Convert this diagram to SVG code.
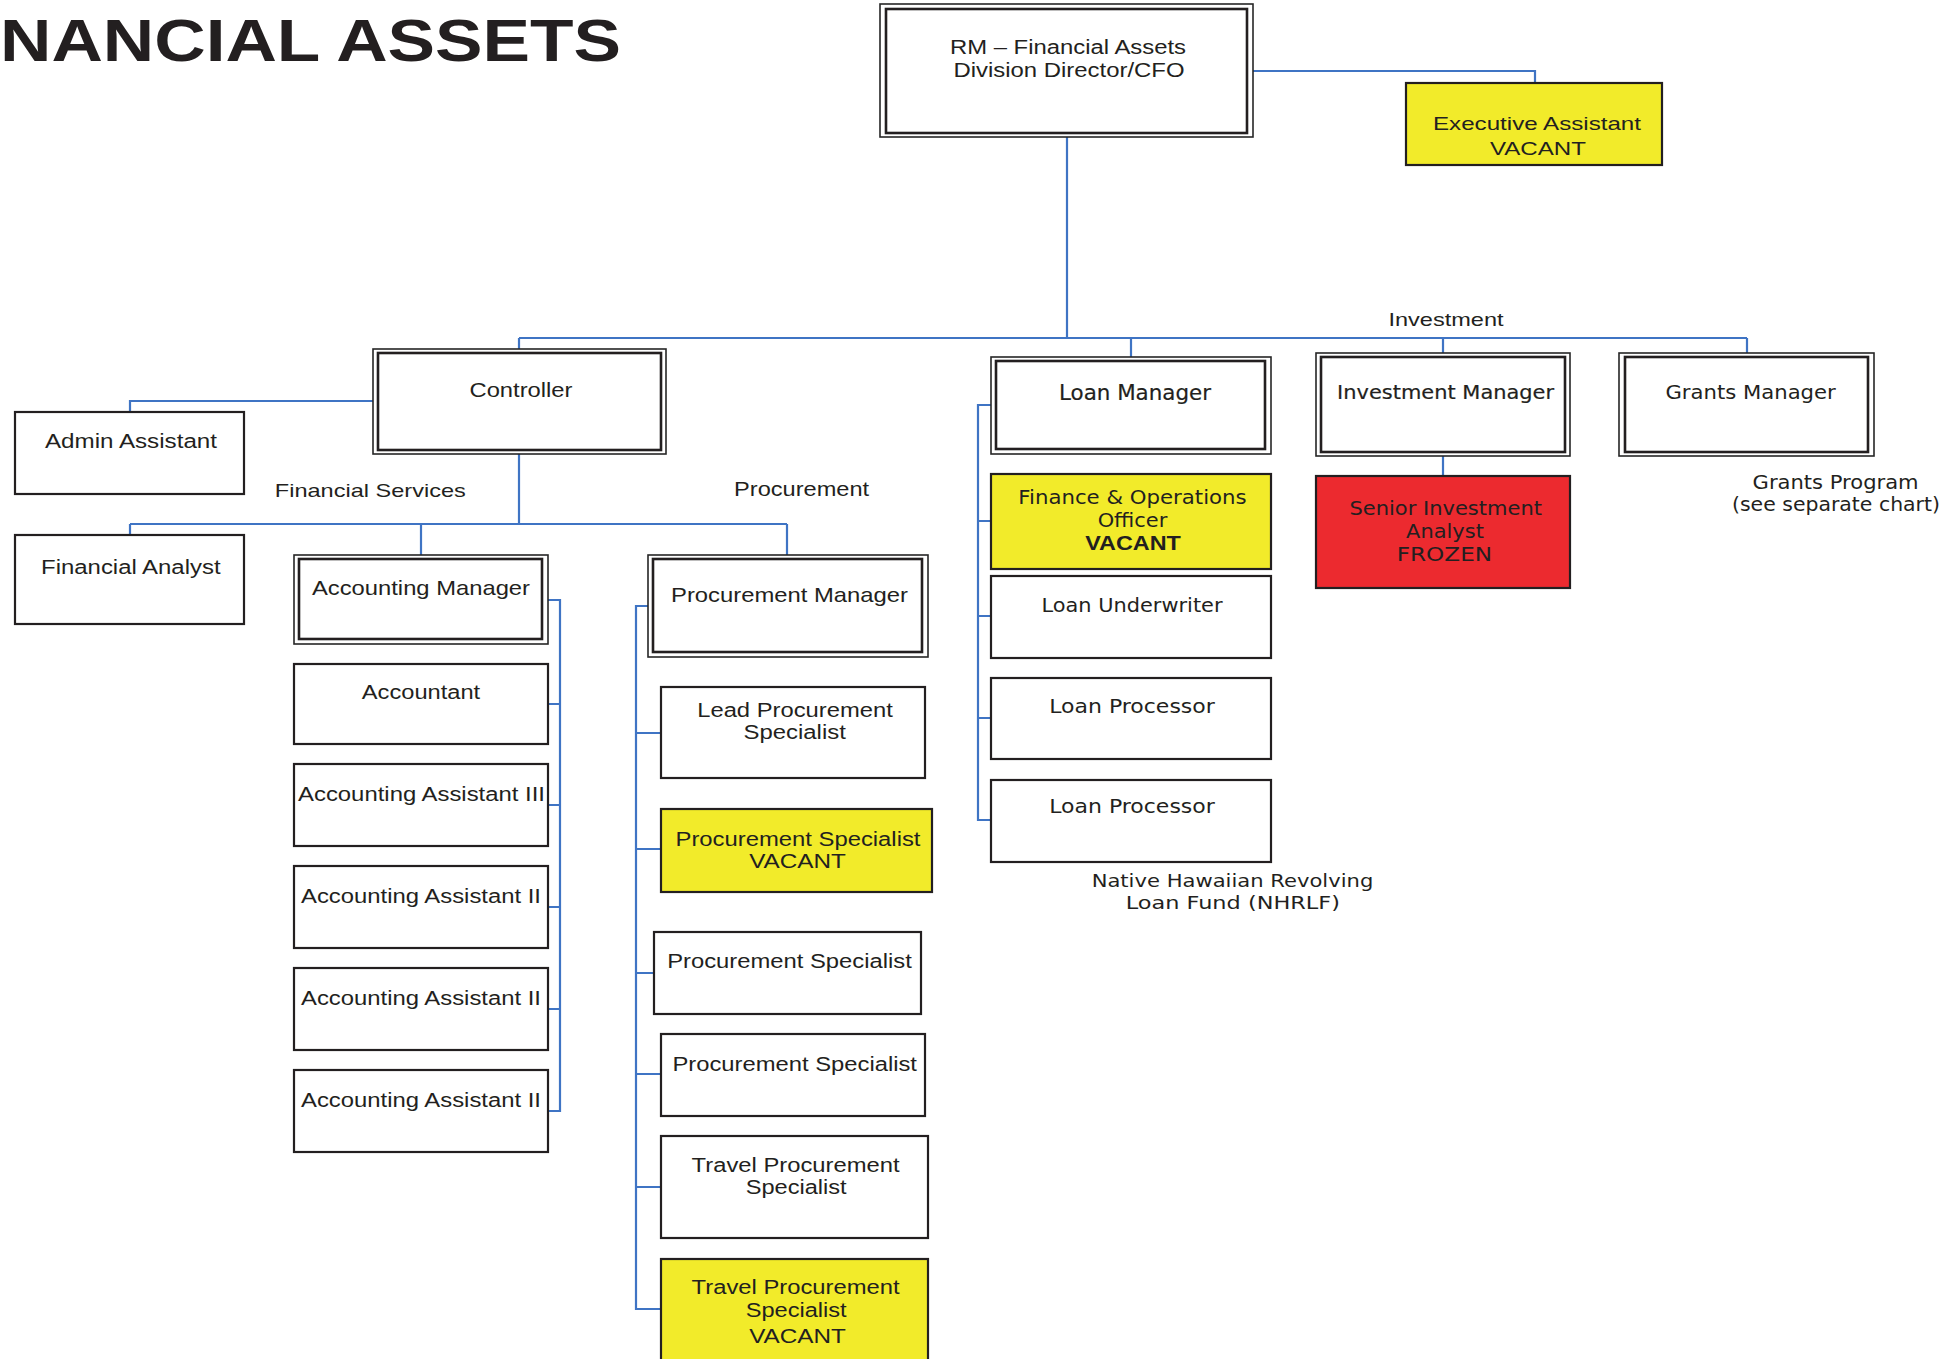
<svg xmlns="http://www.w3.org/2000/svg" width="1946" height="1359" viewBox="0 0 1946 1359">
<style>
.bg{fill:#ffffff}
.box{fill:#ffffff;stroke:#231F20;stroke-width:2.2}
.yel{fill:#F2EB2A;stroke:#231F20;stroke-width:2.2}
.red{fill:#EC2A2F;stroke:#231F20;stroke-width:2.2}
.outer{fill:#ffffff;stroke:#262626;stroke-width:1.6}
.inner{fill:#ffffff;stroke:#231F20;stroke-width:2.6}
.c{fill:none;stroke:#3F74C4;stroke-width:2.2}
.h{font-family:"Liberation Sans",Arial,sans-serif;fill:#231F20;text-anchor:middle}
.g{font-family:"DejaVu Sans","Liberation Sans",sans-serif;fill:#231F20;text-anchor:middle}
.med{stroke:#231F20;stroke-width:0.2}
.title{font-family:"Liberation Sans",Arial,sans-serif;font-weight:bold;font-size:59px;fill:#231F20}
</style>
<rect class="bg" x="0" y="0" width="1946" height="1359"/>
<text class="title" x="0" y="61" textLength="621" lengthAdjust="spacingAndGlyphs">NANCIAL ASSETS</text>

<g id="connectors">
<path class="c" d="M1253 71 H1535 V83"/>
<path class="c" d="M1067 137 V338"/>
<path class="c" d="M519 338 H1747"/>
<path class="c" d="M519 338 V349 M1131 338 V357 M1443 338 V353 M1747 338 V353"/>
<path class="c" d="M373 401 H130 V412"/>
<path class="c" d="M519 454 V524 M130 524 H787 M130 524 V535 M421 524 V555 M787 524 V555"/>
<path class="c" d="M548 600 H560 V1111 H548 M548 704 H560 M548 805 H560 M548 907 H560 M548 1009 H560"/>
<path class="c" d="M648 606 H636 V1309 H661 M636 733 H661 M636 849 H661 M636 973 H654 M636 1074 H661 M636 1187 H661"/>
<path class="c" d="M991 405 H978 V820 H991 M978 521 H991 M978 616 H991 M978 718 H991"/>
<path class="c" d="M1443 456 V476"/>
</g>

<g id="rm">
<rect class="outer" x="880" y="4" width="373" height="133"/>
<rect class="inner" x="886" y="9" width="361" height="124"/>
<text class="h" x="1068" y="54" font-size="19.5" textLength="236" lengthAdjust="spacingAndGlyphs">RM – Financial Assets</text>
<text class="h" x="1069" y="77" font-size="19.5" textLength="231" lengthAdjust="spacingAndGlyphs">Division Director/CFO</text>
</g>
<g id="exec">
<rect class="yel" x="1406" y="83" width="256" height="82"/>
<text class="h" x="1537" y="130" font-size="18.6" textLength="208" lengthAdjust="spacingAndGlyphs">Executive Assistant</text>
<text class="h" x="1538" y="155" font-size="18.6" textLength="96" lengthAdjust="spacingAndGlyphs">VACANT</text>
</g>
<text class="h" x="1446" y="325.5" font-size="18.6" textLength="115" lengthAdjust="spacingAndGlyphs">Investment</text>

<g id="controller">
<rect class="outer" x="373" y="349" width="293" height="105"/>
<rect class="inner" x="378" y="353" width="283" height="97"/>
<text class="h" x="521" y="396.7" font-size="21" textLength="103" lengthAdjust="spacingAndGlyphs">Controller</text>
</g>
<g id="admin">
<rect class="box" x="15" y="412" width="229" height="82"/>
<text class="h" x="131" y="448.3" font-size="20" textLength="172" lengthAdjust="spacingAndGlyphs">Admin Assistant</text>
</g>
<text class="h" x="370.3" y="497.3" font-size="18.6" textLength="191" lengthAdjust="spacingAndGlyphs">Financial Services</text>
<text class="h" x="801.6" y="495.7" font-size="19.5" textLength="135" lengthAdjust="spacingAndGlyphs">Procurement</text>
<g id="fin-analyst">
<rect class="box" x="15" y="535" width="229" height="89"/>
<text class="h" x="130.8" y="574.3" font-size="20" textLength="179.5" lengthAdjust="spacingAndGlyphs">Financial Analyst</text>
</g>

<g id="acc-manager">
<rect class="outer" x="294" y="555" width="254" height="89"/>
<rect class="inner" x="299" y="559" width="243" height="80"/>
<text class="h" x="421" y="595" font-size="21" textLength="218" lengthAdjust="spacingAndGlyphs">Accounting Manager</text>
</g>
<g id="accountant">
<rect class="box" x="294" y="664" width="254" height="80"/>
<text class="h" x="421" y="699.3" font-size="20" textLength="118.4" lengthAdjust="spacingAndGlyphs">Accountant</text>
</g>
<g id="acc-asst-3">
<rect class="box" x="294" y="764" width="254" height="82"/>
<text class="h" x="421.5" y="800.7" font-size="20" textLength="247" lengthAdjust="spacingAndGlyphs">Accounting Assistant III</text>
</g>
<g id="acc-asst-2a">
<rect class="box" x="294" y="866" width="254" height="82"/>
<text class="h" x="421" y="902.7" font-size="20" textLength="240" lengthAdjust="spacingAndGlyphs">Accounting Assistant II</text>
</g>
<g id="acc-asst-2b">
<rect class="box" x="294" y="968" width="254" height="82"/>
<text class="h" x="421" y="1005" font-size="20" textLength="240" lengthAdjust="spacingAndGlyphs">Accounting Assistant II</text>
</g>
<g id="acc-asst-2c">
<rect class="box" x="294" y="1070" width="254" height="82"/>
<text class="h" x="421" y="1106.7" font-size="20" textLength="240" lengthAdjust="spacingAndGlyphs">Accounting Assistant II</text>
</g>

<g id="proc-manager">
<rect class="outer" x="648" y="555" width="280" height="102"/>
<rect class="inner" x="653" y="559" width="269" height="93"/>
<text class="h" x="789.5" y="601.7" font-size="21" textLength="237" lengthAdjust="spacingAndGlyphs">Procurement Manager</text>
</g>
<g id="lead-proc">
<rect class="box" x="661" y="687" width="264" height="91"/>
<text class="h" x="795" y="716.7" font-size="20" textLength="195.6" lengthAdjust="spacingAndGlyphs">Lead Procurement</text>
<text class="h" x="794.7" y="739.3" font-size="20" textLength="102.3" lengthAdjust="spacingAndGlyphs">Specialist</text>
</g>
<g id="proc-spec-vacant">
<rect class="yel" x="661" y="809" width="271" height="83"/>
<text class="h" x="798" y="846" font-size="20" textLength="245" lengthAdjust="spacingAndGlyphs">Procurement Specialist</text>
<text class="h" x="797.5" y="868.3" font-size="20" textLength="96.7" lengthAdjust="spacingAndGlyphs">VACANT</text>
</g>
<g id="proc-spec-1">
<rect class="box" x="654" y="932" width="267" height="82"/>
<text class="h" x="789.5" y="968.3" font-size="20" textLength="244.6" lengthAdjust="spacingAndGlyphs">Procurement Specialist</text>
</g>
<g id="proc-spec-2">
<rect class="box" x="661" y="1034" width="264" height="82"/>
<text class="h" x="794.7" y="1070.7" font-size="20" textLength="244.6" lengthAdjust="spacingAndGlyphs">Procurement Specialist</text>
</g>
<g id="travel-proc">
<rect class="box" x="661" y="1136" width="267" height="102"/>
<text class="h" x="795.6" y="1171.7" font-size="20" textLength="208" lengthAdjust="spacingAndGlyphs">Travel Procurement</text>
<text class="h" x="796.2" y="1194.3" font-size="20" textLength="101" lengthAdjust="spacingAndGlyphs">Specialist</text>
</g>
<g id="travel-proc-vacant">
<rect class="yel" x="661" y="1259" width="267" height="112"/>
<text class="h" x="795.6" y="1294.3" font-size="20" textLength="208" lengthAdjust="spacingAndGlyphs">Travel Procurement</text>
<text class="h" x="796.2" y="1316.7" font-size="20" textLength="101" lengthAdjust="spacingAndGlyphs">Specialist</text>
<text class="h" x="797.5" y="1343.3" font-size="20" textLength="96.7" lengthAdjust="spacingAndGlyphs">VACANT</text>
</g>

<g id="loan-manager">
<rect class="outer" x="991" y="357" width="280" height="97"/>
<rect class="inner" x="996" y="361" width="269" height="88"/>
<text class="g med" x="1135" y="400" font-size="20.5" textLength="152" lengthAdjust="spacingAndGlyphs">Loan Manager</text>
</g>
<g id="fin-ops">
<rect class="yel" x="991" y="474" width="280" height="95"/>
<text class="g" x="1132.5" y="504" font-size="19.2" textLength="228.3" lengthAdjust="spacingAndGlyphs">Finance &amp; Operations</text>
<text class="g" x="1132.5" y="527.3" font-size="19.2" textLength="69.7" lengthAdjust="spacingAndGlyphs">Officer</text>
<text class="h" x="1133" y="550" font-size="19.5" font-weight="bold" textLength="95.7" lengthAdjust="spacingAndGlyphs">VACANT</text>
</g>
<g id="loan-underwriter">
<rect class="box" x="991" y="576" width="280" height="82"/>
<text class="g" x="1132" y="611.7" font-size="20" textLength="181" lengthAdjust="spacingAndGlyphs">Loan Underwriter</text>
</g>
<g id="loan-processor-1">
<rect class="box" x="991" y="678" width="280" height="81"/>
<text class="g" x="1132" y="713.3" font-size="20" textLength="165.7" lengthAdjust="spacingAndGlyphs">Loan Processor</text>
</g>
<g id="loan-processor-2">
<rect class="box" x="991" y="780" width="280" height="82"/>
<text class="g" x="1132" y="812.7" font-size="20" textLength="165.7" lengthAdjust="spacingAndGlyphs">Loan Processor</text>
</g>
<text class="g" x="1232.5" y="887.3" font-size="18.3" textLength="281.7" lengthAdjust="spacingAndGlyphs">Native Hawaiian Revolving</text>
<text class="g" x="1232.8" y="909.3" font-size="18.3" textLength="214.3" lengthAdjust="spacingAndGlyphs">Loan Fund (NHRLF)</text>

<g id="inv-manager">
<rect class="outer" x="1316" y="353" width="254" height="103"/>
<rect class="inner" x="1321" y="357" width="244" height="95"/>
<text class="g med" x="1445.6" y="399" font-size="19.7" textLength="217" lengthAdjust="spacingAndGlyphs">Investment Manager</text>
</g>
<g id="senior-inv">
<rect class="red" x="1316" y="476" width="254" height="112"/>
<text class="g" x="1445.7" y="515" font-size="19.7" textLength="192.6" lengthAdjust="spacingAndGlyphs">Senior Investment</text>
<text class="g" x="1445" y="537.7" font-size="19.7" textLength="77.8" lengthAdjust="spacingAndGlyphs">Analyst</text>
<text class="g" x="1444.4" y="561" font-size="19.7" textLength="95.5" lengthAdjust="spacingAndGlyphs">FROZEN</text>
</g>
<g id="grants-manager">
<rect class="outer" x="1619" y="353" width="255" height="103"/>
<rect class="inner" x="1625" y="357" width="243" height="95"/>
<text class="g" x="1750.6" y="398.7" font-size="19.7" textLength="170.4" lengthAdjust="spacingAndGlyphs">Grants Manager</text>
</g>
<text class="g" x="1835.6" y="489" font-size="19.2" textLength="166" lengthAdjust="spacingAndGlyphs">Grants Program</text>
<text class="g" x="1836" y="510.7" font-size="19.2" textLength="208" lengthAdjust="spacingAndGlyphs">(see separate chart)</text>
</svg>
